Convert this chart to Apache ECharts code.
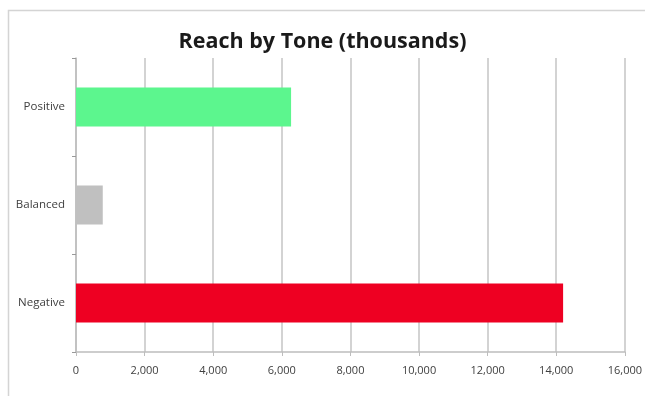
<!DOCTYPE html>
<html>
<head>
<meta charset="utf-8">
<script src="https://cdn.jsdelivr.net/npm/echarts@6/dist/echarts.min.js"></script>
<style>
  html, body { margin: 0; padding: 0; background: #fff; }
  #chart { width: 645px; height: 396px; }
</style>
</head>
<body>
<div id="chart"></div>
<script>
// categories listed top to bottom
const tones = ["Positive", "Balanced", "Negative"];
const reach = [6270, 780, 14200];
const toneColors = ["#5cf68e", "#c0c0c0", "#ee0022"];
const xTicks = [0, 16000, 2000]; // min, max, step

const chart = echarts.init(document.getElementById("chart"), null, { renderer: "canvas" });

const font = "'Open Sans', sans-serif";

chart.setOption({
  backgroundColor: "#fff",
  animation: false,
  title: {
    text: "Reach by Tone (thousands)",
    left: "center",
    top: 26,
    textStyle: { fontFamily: font, fontSize: 21.5, fontWeight: "bold", color: "#1a1a1a" },
  },
  graphic: [
    {
      type: "rect",
      left: 6,
      top: 8,
      shape: { width: 700, height: 500 },
      style: { fill: "none", stroke: "#d4d4d4", lineWidth: 1.5 },
      silent: true,
    },
  ],
  grid: { left: 76, right: 18, top: 58, bottom: 44 },
  xAxis: {
    type: "value",
    min: xTicks[0],
    max: xTicks[1],
    interval: xTicks[2],
    axisLine: { show: true, lineStyle: { color: "#bdbdbd", width: 1.5 } },
    axisTick: { show: true, length: 4, lineStyle: { color: "#bdbdbd" } },
    axisLabel: {
      color: "#404040",
      fontFamily: font,
      fontSize: 11,
      margin: 13,
      formatter: (v) => v.toLocaleString("en-US"),
    },
    splitLine: { show: true, lineStyle: { color: "#c4c4c4", width: 1.5 } },
  },
  yAxis: {
    type: "category",
    data: tones,
    inverse: true,
    axisLine: { show: true, lineStyle: { color: "#bdbdbd", width: 1.5 } },
    axisTick: { show: true, length: 4, lineStyle: { color: "#999" } },
    axisLabel: { color: "#404040", fontFamily: font, fontSize: 11.5, margin: 11 },
  },
  series: [
    {
      type: "bar",
      barWidth: "40%",
      data: reach.map((v, i) => ({ value: v, itemStyle: { color: toneColors[i] } })),
    },
  ],
});
</script>
</body>
</html>
